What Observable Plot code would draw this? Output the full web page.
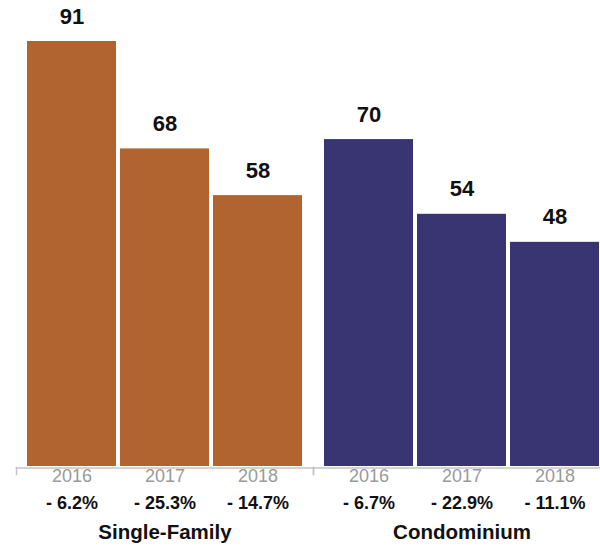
<!DOCTYPE html>
<html>
<head>
<meta charset="utf-8">
<script src="https://cdn.jsdelivr.net/npm/d3@7"></script>
<script src="https://cdn.jsdelivr.net/npm/@observablehq/plot@0.6"></script>
<style>
  html, body { margin: 0; padding: 0; background: #fff; }
  #chart { width: 600px; height: 553px; overflow: hidden; }
  #chart svg { max-width: none !important; display: block; }
</style>
</head>
<body>
<div id="chart"></div>
<script>
// Home sales by property type, with year-over-year change
const groups = ["Single-Family", "Condominium"];
const years = ["2016", "2017", "2018"];
const singleFamily = [91, 68, 58];
const condominium = [70, 54, 48];
const singleFamilyChange = ["- 6.2%", "- 25.3%", "- 14.7%"];
const condominiumChange = ["- 6.7%", "- 22.9%", "- 11.1%"];
const groupColors = ["#B16430", "#383572"];

const rows = [
  ...years.map((year, i) => ({group: groups[0], year, value: singleFamily[i], change: singleFamilyChange[i]})),
  ...years.map((year, i) => ({group: groups[1], year, value: condominium[i], change: condominiumChange[i]}))
];

const font = "'Liberation Sans', Arial, Helvetica, sans-serif";

const chart = Plot.plot({
  width: 610,
  height: 553,
  marginLeft: 16,
  marginRight: 0,
  marginTop: 41,
  marginBottom: 87,
  style: {fontFamily: font, background: "white"},
  fx: {domain: groups, padding: 0, axis: null},
  x: {domain: years, paddingInner: 0.048, paddingOuter: 0.112, axis: null},
  y: {domain: [0, 91], axis: null},
  color: {domain: groups, range: groupColors},
  marks: [
    Plot.barY(rows, {fx: "group", x: "year", y: "value", fill: "group"}),
    // baseline axis with ticks at each group's edges
    Plot.frame({anchor: "bottom", stroke: "#c4c4c4", strokeWidth: 1.5, insetBottom: -1.5}),
    Plot.frame({anchor: "left", stroke: "#c4c4c4", strokeWidth: 1.5, insetTop: 426, insetBottom: -8}),
    Plot.frame({anchor: "right", stroke: "#c4c4c4", strokeWidth: 1.5, insetTop: 426, insetBottom: -8}),
    // values above bars
    Plot.text(rows, {fx: "group", x: "year", y: "value", text: d => String(d.value), dy: -25,
      fontSize: 22, fontWeight: "bold", fill: "#111"}),
    // year labels
    Plot.text(rows, {fx: "group", x: "year", frameAnchor: "bottom", text: "year", dy: 15,
      fontSize: 18, fill: "#9a9a9a"}),
    // change labels
    Plot.text(rows, {fx: "group", x: "year", frameAnchor: "bottom", text: "change", dy: 42,
      fontSize: 18, fontWeight: "bold", fill: "#111"}),
    // group labels
    Plot.text(groups, {fx: d => d, frameAnchor: "bottom", text: d => d, dy: 72,
      fontSize: 20.5, fontWeight: "bold", fill: "#111"})
  ]
});

chart.style.maxWidth = "none";
document.getElementById("chart").append(chart);
</script>
</body>
</html>
